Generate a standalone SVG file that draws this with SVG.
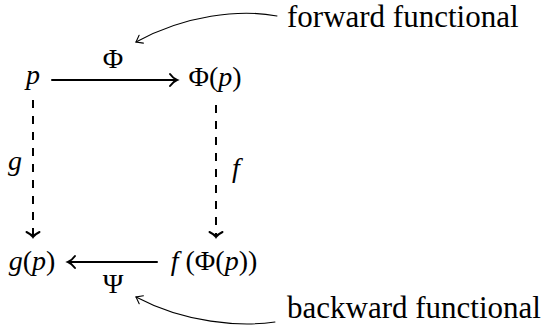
<svg xmlns="http://www.w3.org/2000/svg" width="543" height="334" viewBox="0 0 543 334">
<g id="connectors" fill="none" stroke="#000" stroke-linecap="round">
<line stroke-width="2" x1="52" y1="80" x2="176" y2="80"/>
<path stroke-width="2" d="M170,74 C172.5,77.5 175.5,79.4 177,80 C175.5,80.6 172.5,82.5 170,86"/>
<line stroke-width="2" x1="157" y1="262" x2="69" y2="262"/>
<path stroke-width="2" d="M75,256 C72.5,259.5 69.5,261.4 68,262 C69.5,262.6 72.5,264.5 75,268"/>
<line stroke-width="2" stroke-linecap="butt" stroke-dasharray="8 8" x1="33" y1="100" x2="33" y2="236"/>
<path stroke-width="2" d="M26.5,232 C30.5,234 32.4,236 33,237 C33.6,236 35.5,234 39.5,232"/>
<line stroke-width="2" stroke-linecap="butt" stroke-dasharray="8 8" x1="216" y1="105" x2="216" y2="236"/>
<path stroke-width="2" d="M209.5,232 C213.5,234 215.4,236 216,237 C216.6,236 218.5,234 222.5,232"/>
<path stroke-width="1.1" d="M277,16 C240,9 185,15 136,42"/>
<path stroke-width="1.1" d="M143.4,43.1 L136,42 L139.1,35.2"/>
<path stroke-width="1.1" d="M275,322 C240,327 185,323 136,297"/>
<path stroke-width="1.1" d="M143.4,295.8 L136,297 L139.2,303.8"/>
</g>
<text x="113" y="68" font-family="Liberation Serif" font-size="28" text-anchor="middle">Φ</text>
<text x="113" y="293" font-family="Liberation Serif" font-size="28" text-anchor="middle">Ψ</text>
<text x="15" y="170" font-family="Liberation Serif" font-size="28" font-style="italic" text-anchor="middle">g</text>
<text x="236" y="177" font-family="Liberation Serif" font-size="28" font-style="italic" text-anchor="middle">f</text>
<g id="node-p"><text x="33" y="84" font-family="Liberation Serif" font-size="28" font-style="italic" text-anchor="middle">p</text></g>
<g id="node-phi-p"><text x="215" y="86" font-family="Liberation Serif" font-size="28" text-anchor="middle">Φ(<tspan font-style="italic">p</tspan>)</text></g>
<g id="node-g-p"><text x="32" y="270" font-family="Liberation Serif" font-size="28" text-anchor="middle"><tspan font-style="italic">g</tspan>(<tspan font-style="italic">p</tspan>)</text></g>
<g id="node-f-phi-p"><text x="214" y="270" font-family="Liberation Serif" font-size="28" text-anchor="middle"><tspan font-style="italic">f</tspan> (Φ(<tspan font-style="italic">p</tspan>))</text></g>
<text x="287" y="27" font-family="Liberation Serif" font-size="31">forward functional</text>
<text x="287" y="318" font-family="Liberation Serif" font-size="31">backward functional</text>
</svg>
